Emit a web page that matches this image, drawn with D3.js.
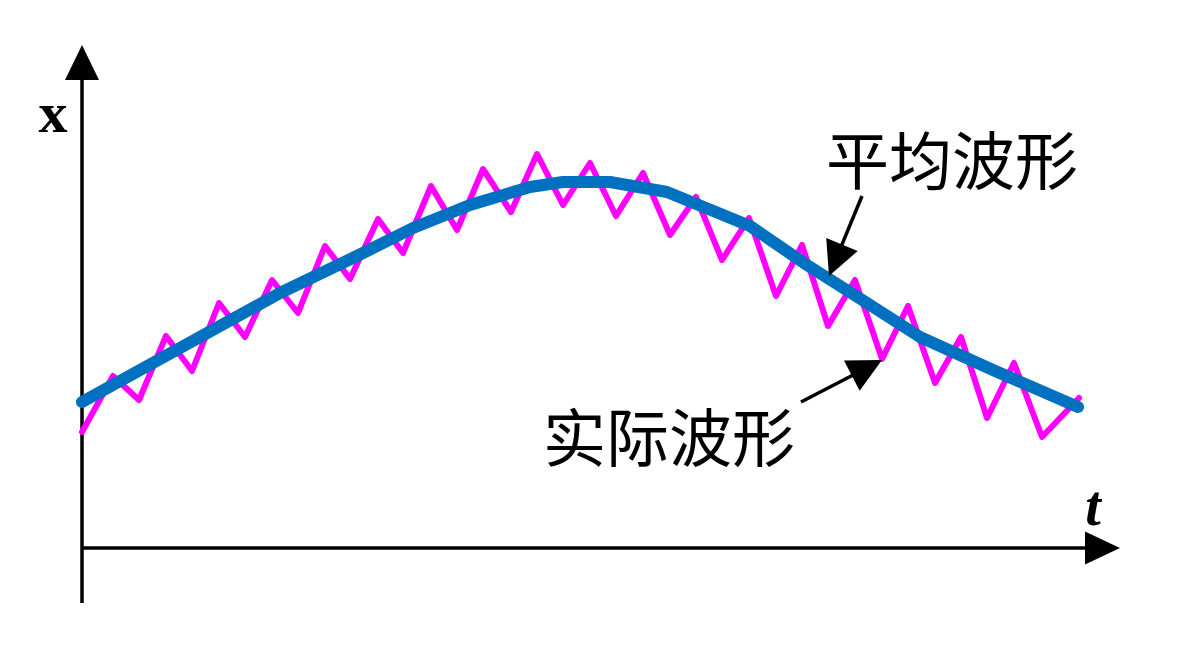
<!DOCTYPE html>
<html>
<head>
<meta charset="utf-8">
<script src="https://cdn.jsdelivr.net/npm/d3@7"></script>
<style>
  html, body { margin: 0; padding: 0; background: #fff; }
  svg { display: block; }
</style>
</head>
<body>
<svg id="chart" width="1184" height="648"></svg>
<script>
// Actual (zigzag) waveform: time, value
const actualT = [0,31,57,84,110,137,163,190,216,243,268,296,321,349,375,401,429,455,481,508,534,561,588,614,640,667,694,720,746,773,800,826,853,879,905,932,960,997];
const actualX = [116,172,148,212,177,245,211,268,235,302,269,329,295,362,318,379,336,394,343,385,332,375,313,351,288,330,252,303,222,268,189,242,165,211,130,185,111,150];
// Average waveform: time, value
const averageT = [0,198,281,331,388,448,481,528,585,668,725,785,838,911,996];
const averageX = [146,255,295,320,343,361,366,366,356,322,283,245,211,178,141];
// Labels
const yLabel = "x";
const xLabel = "t";
const averageLabel = "平均波形";
const actualLabel = "实际波形";

const svg = d3.select("#chart");
const x = d3.scaleLinear().domain([0, 997]).range([82, 1079]);
const y = d3.scaleLinear().domain([0, 400]).range([548, 148]);

const line = d3.line().x(d => x(d[0])).y(d => y(d[1]));

// axes
const ax = svg.append("g");
ax.append("line").attr("x1", x(0)).attr("x2", x(0)).attr("y1", 603).attr("y2", 75)
  .attr("stroke", "#000").attr("stroke-width", 3.5);
ax.append("path").attr("d", `M${x(0)},45 L${x(0)-17},80 L${x(0)+17},80 Z`).attr("fill", "#000");
ax.append("line").attr("x1", x(0)).attr("x2", 1090).attr("y1", y(0)).attr("y2", y(0))
  .attr("stroke", "#000").attr("stroke-width", 3.5);
ax.append("path").attr("d", `M1120,${y(0)} L1085,${y(0)-16.5} L1085,${y(0)+16.5} Z`).attr("fill", "#000");

svg.append("text").attr("x", 53).attr("y", 132).attr("text-anchor", "middle")
  .attr("font-family", "Liberation Serif").attr("font-weight", "bold").attr("font-size", 58)
  .text(yLabel);
svg.append("text").attr("x", 1093).attr("y", 525).attr("text-anchor", "middle")
  .attr("font-family", "Liberation Serif").attr("font-weight", "bold").attr("font-style", "italic")
  .attr("font-size", 56).text(xLabel);

// actual waveform
svg.append("path").datum(d3.zip(actualT, actualX)).attr("d", line)
  .attr("fill", "none").attr("stroke", "#FF00FF").attr("stroke-width", 6)
  .attr("stroke-linejoin", "round").attr("stroke-linecap", "round");

// average waveform
svg.append("path").datum(d3.zip(averageT, averageX)).attr("d", line)
  .attr("fill", "none").attr("stroke", "#0070C0").attr("stroke-width", 12)
  .attr("stroke-linejoin", "round").attr("stroke-linecap", "round");

// annotation arrows (data coords)
const arrows = [
  { from: [780, 352], to: [747, 272] },
  { from: [719, 146], to: [800, 188] }
];
arrows.forEach(a => {
  const x1 = x(a.from[0]), y1 = y(a.from[1]), x2 = x(a.to[0]), y2 = y(a.to[1]);
  const dx = x2 - x1, dy = y2 - y1, L = Math.hypot(dx, dy);
  const ux = dx / L, uy = dy / L, hl = 34, hw = 17;
  const bx = x2 - ux * hl, by = y2 - uy * hl;
  svg.append("line").attr("x1", x1).attr("y1", y1).attr("x2", bx + ux * 2).attr("y2", by + uy * 2)
    .attr("stroke", "#000").attr("stroke-width", 3.5);
  svg.append("path")
    .attr("d", `M${x2},${y2} L${bx - uy * hw},${by + ux * hw} L${bx + uy * hw},${by - ux * hw} Z`)
    .attr("fill", "#000");
});

svg.append("text").attr("x", 826).attr("y", 156).attr("dominant-baseline", "central")
  .attr("font-family", "Noto Sans CJK SC").attr("font-size", 63).text(averageLabel);
svg.append("text").attr("x", 543).attr("y", 433).attr("dominant-baseline", "central")
  .attr("font-family", "Noto Sans CJK SC").attr("font-size", 63).text(actualLabel);
</script>
</body>
</html>
